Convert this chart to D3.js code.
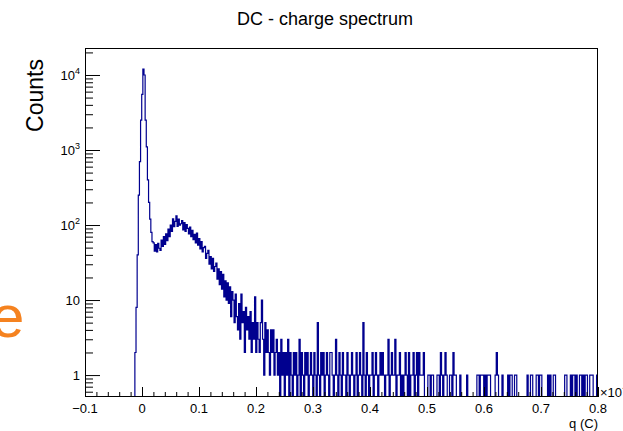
<!DOCTYPE html>
<html><head><meta charset="utf-8">
<script src="https://cdn.jsdelivr.net/npm/d3@7"></script>
<style>
body{margin:0;background:#fff}
svg{display:block;font-family:"Liberation Sans",Arial,Helvetica,sans-serif}
</style>
</head><body><svg id="c" width="623" height="431"></svg>
<script>
// ---- data ----
const binStart = -0.0125;
const binWidth = 0.002;
const counts = [
  2, 8, 40, 250, 700, 2500, 5500, 12000, 10000, 2500,
  1100, 400, 200, 120, 80, 60,
  58, 45, 55, 44, 57, 49, 46, 63, 52, 70, 55, 76, 62, 88,
  70, 100, 82, 121, 95, 112, 133, 96, 120, 100,
  104, 115, 86, 108, 82, 101, 90, 76, 94, 70,
  85, 64, 75, 58, 78, 54, 66, 48, 60, 44,
  50, 52, 36, 42, 46, 30, 38, 26, 36, 24,
  28, 31, 19, 26, 16, 24, 14, 22, 11, 18,
  10, 17, 9, 15, 6, 13, 10, 5, 12, 6,
  4, 9, 3, 12, 5, 7, 2, 8, 4, 6,
  3, 7, 2, 5, 3, 11, 2, 5, 3, 2,
  5, 10, 3, 1, 5, 2, 4, 2, 1, 4,
  2, 4, 1, 2, 3, 1, 2, 0, 3, 1,
  2, 0, 2, 1, 3, 0, 2, 1, 0, 2,
  1, 2, 0, 1, 3, 0, 2, 1, 0, 2,
  1, 2, 0, 1, 2, 1, 0, 2, 1, 0,
  5, 1, 0, 2, 1, 2, 0, 1, 2, 1,
  0, 2, 2, 1, 0, 1, 3, 1, 0, 2,
  1, 0, 2, 1, 1, 0, 2, 1, 0, 1,
  2, 1, 0, 1, 2, 0, 1, 2, 1, 0,
  5, 1, 0, 2, 1, 0, 1, 1, 2, 0,
  1, 2, 1, 0, 1, 2, 1, 2, 1, 0,
  1, 1, 3, 0, 1, 2, 1, 1, 3, 0,
  1, 1, 2, 0, 1, 0, 1, 2, 1, 0, 2,
  0, 1, 1, 2, 0, 1, 2, 0, 2, 1,
  1, 1, 2, 0, 0, 0, 1, 1, 0, 1,
  1, 0, 0, 0, 1, 1, 0, 2, 1, 0,
  1, 2, 1, 0, 0, 1, 1, 0, 2, 1,
  1, 0, 0, 0, 1, 0, 0, 0, 0, 0,
  1, 0, 0, 0, 0, 0, 0, 0, 0, 1,
  1, 0, 1, 1, 1, 0, 1, 0, 1, 1,
  1, 0, 0, 0, 0, 1, 2, 1, 0, 0,
  0, 1, 0, 0, 0, 0, 1, 0, 1, 1,
  0, 0, 1, 1, 0, 0, 0, 0, 0, 0,
  0, 0, 0, 1, 0, 0, 1, 1, 0, 0,
  0, 1, 1, 0, 1, 1, 0, 0, 0, 0,
  0, 1, 0, 1, 0, 0, 1, 1, 0, 0,
  0, 0, 0, 0, 0, 0, 1, 1, 0, 0,
  0, 1, 0, 1, 1, 0, 1, 0, 0, 1,
  1, 0, 1, 0, 1, 1, 0, 0, 1, 1,
  1, 0, 0, 0, 1, 1
];
const xTicks = [-0.1, 0, 0.1, 0.2, 0.3, 0.4, 0.5, 0.6, 0.7, 0.8];
const xTickLabels = ["\u22120.1", "0", "0.1", "0.2", "0.3", "0.4", "0.5", "0.6", "0.7", "0.8"];
const yTicks = [1, 10, 100, 1000, 10000];
const yTickBase = ["1", "10", "10", "10", "10"];
const yTickExp = ["", "", "2", "3", "4"];
const titleText = "DC - charge spectrum";
const xTitle = "q (C)";
const yTitle = "Counts";
const xExponent = "\u00d710";
const xExponentSup = "\u22129";

// ---- layout ----
const L = 85, R = 598, T = 48, B = 397;
const svg = d3.select("#c");
const x = d3.scaleLinear().domain([-0.1, 0.8]).range([L, R]);
const yMin = 0.51, yMax = 22900;
const y = d3.scaleLog().domain([yMin, yMax]).range([B, T]);

// orange partial text at left edge
svg.append("text").attr("x", -9).attr("y", 337).attr("font-size", 60)
  .attr("fill", "#f5821f").text("e");

// clip for histogram
svg.append("clipPath").attr("id", "fr").append("rect")
  .attr("x", L).attr("y", T).attr("width", R - L).attr("height", B - T);

// histogram step path
const pts = [];
const cy = c => y(Math.max(c, yMin));
pts.push([x(binStart), B]);
counts.forEach((c, i) => {
  const x0 = x(binStart + i * binWidth), x1 = x(binStart + (i + 1) * binWidth);
  pts.push([x0, cy(c)]);
  pts.push([x1, cy(c)]);
});
pts.push([x(binStart + counts.length * binWidth), B]);
svg.append("path").attr("clip-path", "url(#fr)")
  .attr("d", d3.line()(pts))
  .attr("fill", "none").attr("stroke", "#00008f").attr("stroke-width", 1.2);

// frame
svg.append("rect").attr("x", L + 0.5).attr("y", T + 0.5).attr("width", R - L - 1).attr("height", B - T - 1)
  .attr("fill", "none").attr("stroke", "#000").attr("stroke-width", 1);

// x axis ticks (inward)
const xMinor = d3.range(0, 46).map(i => -0.1 + i * 0.02);
const gx = svg.append("g").attr("transform", `translate(0,${B})`);
gx.call(d3.axisBottom(x).tickValues(xMinor).tickSize(-5).tickFormat("").tickSizeOuter(0));
const gx2 = svg.append("g").attr("transform", `translate(0,${B})`);
gx2.call(d3.axisBottom(x).tickValues(xTicks).tickSize(-10).tickFormat("").tickSizeOuter(0));
[gx, gx2].forEach(g => { g.select(".domain").remove(); g.selectAll("line").attr("stroke", "#000"); });

// x tick labels
svg.append("g").selectAll("text").data(xTicks).join("text")
  .attr("x", d => x(d)).attr("y", B + 16).attr("text-anchor", "middle")
  .attr("font-size", 13).attr("fill", "#000")
  .text((d, i) => xTickLabels[i]);

// y axis ticks (inward)
const yMinor = [];
for (let e = -1; e <= 4; e++) for (let d = 2; d <= 9; d++) {
  const v = d * Math.pow(10, e);
  if (v >= yMin && v <= yMax) yMinor.push(v);
}
const gy = svg.append("g").attr("transform", `translate(${L},0)`);
gy.call(d3.axisLeft(y).tickValues(yMinor).tickSize(-8).tickFormat("").tickSizeOuter(0));
const gy2 = svg.append("g").attr("transform", `translate(${L},0)`);
gy2.call(d3.axisLeft(y).tickValues(yTicks).tickSize(-15).tickFormat("").tickSizeOuter(0));
[gy, gy2].forEach(g => { g.select(".domain").remove(); g.selectAll("line").attr("stroke", "#000"); });

// y tick labels
const yl = svg.append("g").selectAll("text").data(yTicks).join("text")
  .attr("x", 80).attr("y", d => y(d) + 5).attr("text-anchor", "end")
  .attr("font-size", 13).attr("fill", "#000");
yl.each(function (d, i) {
  const t = d3.select(this);
  t.append("tspan").text(yTickBase[i]);
  if (yTickExp[i]) t.append("tspan").attr("font-size", 9).attr("dy", -6).text(yTickExp[i]);
});

// titles
svg.append("text").attr("x", 325).attr("y", 25).attr("text-anchor", "middle")
  .attr("font-size", 18).attr("fill", "#000").text(titleText);
svg.append("text").attr("transform", "translate(43,59) rotate(-90)")
  .attr("text-anchor", "end").attr("font-size", 23).attr("fill", "#000").text(yTitle);
svg.append("text").attr("x", R).attr("y", 428).attr("text-anchor", "end")
  .attr("font-size", 13).attr("fill", "#000").text(xTitle);
const ex = svg.append("text").attr("x", 600).attr("y", 397).attr("font-size", 13).attr("fill", "#000");
ex.append("tspan").text(xExponent);
ex.append("tspan").attr("font-size", 9).attr("dy", -6).text(xExponentSup);
</script>
</body></html>
